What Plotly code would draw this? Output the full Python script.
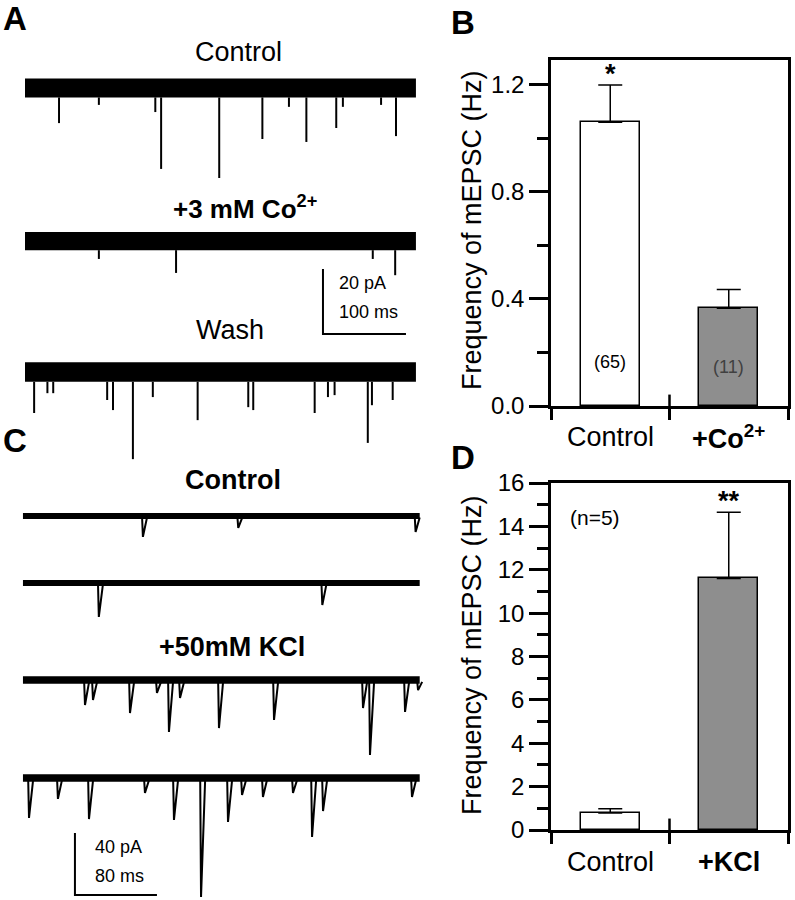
import plotly.graph_objects as go

W, H = 795, 900
FONT = "Arial, 'Liberation Sans', Helvetica, sans-serif"

# ---------------- data: bar panels ----------------
b_cats = ["Control", "+Co<sup>2+</sup>"]
b_means = [1.06, 0.365]
b_sem = [0.14, 0.07]
b_counts = ["(65)", "(11)"]

d_cats = ["Control", "+KCl"]
d_means = [0.78, 11.6]
d_sem = [0.20, 3.05]

bar_x = [0.5, 1.5]

# ---------------- data: current traces ----------------
# panel A (ms, pA): baseline offsets and noise half-width
a_names = ["Control", "+3 mM Co<sup>2+</sup>", "Wash"]
a_offsets = [0.0, -47.1, -87.4]
a_noise = [2.9, 2.8, 3.0]
a_duration = 471
a_event_t = [
    [41, 89, 157, 164, 234, 286, 318, 339, 375, 383, 429, 447],
    [89, 182, 419, 446],
    [11, 27, 34, 99, 106, 130, 154, 208, 269, 275, 349, 365, 373, 413, 418, 443],
]
a_event_amp = [
    [10.8, 5.2, 7.4, 24.9, 27.7, 15.7, 5.8, 16.6, 12.3, 5.8, 5.2, 14.8],
    [5.5, 9.8, 5.5, 10.5],
    [12.6, 6.5, 6.5, 8.6, 11.7, 26.8, 7.7, 14.8, 10.8, 11.7, 12.6, 7.7, 7.1, 21.8, 10.2, 8.6],
]
a_scale = [100, 20]  # ms, pA

# panel C
c_names = ["Control", "+50mM KCl"]
c_offsets = [0.0, -43.2, -105.8, -169.0]
c_noise = [1.9, 1.9, 2.4, 2.4]
c_duration = 387
c_event_t = [
    [117, 210, 383],
    [74, 292],
    [60.5, 68.3, 104.4, 130.7, 142.4, 153.2, 191.2, 244.9, 331.7, 338.5, 372.7, 385.4],
    [5.9, 34.1, 64.4, 119.0, 147.3, 173.7, 200.0, 213.7, 234.1, 263.4, 282.0, 292.7, 379.5],
]
c_event_amp = [
    [13.5, 7.7, 10.3],
    [21.9, 14.2],
    [16.1, 12.9, 21.3, 8.4, 33.5, 11.6, 31.0, 25.8, 18.1, 48.4, 20.6, 6.5],
    [25.8, 13.5, 26.5, 9.7, 27.1, 76.8, 28.4, 11.0, 12.3, 9.7, 38.1, 21.3, 12.3],
]
c_scale = [80, 40]


def px(x):
    return x / W


def py(y):
    return 1 - y / H


fig = go.Figure()


def add_recording(xa, ya, offset, noise, duration, times, amps, decay):
    # noise band
    fig.add_trace(go.Scatter(
        x=[0, duration, duration, 0, 0],
        y=[offset + noise, offset + noise, offset - noise, offset - noise, offset + noise],
        fill="toself", fillcolor="black", mode="lines", line=dict(width=0, color="black"),
        xaxis=xa, yaxis=ya, hoverinfo="skip", showlegend=False,
    ))
    xs, ys = [], []
    for t, a in zip(times, amps):
        if decay:
            xs += [t - 0.8, t, t + decay, None]
            ys += [offset - noise * 0.5, offset - a, offset - noise * 0.5, None]
        else:
            xs += [t, t, None]
            ys += [offset - noise, offset - a, None]
    fig.add_trace(go.Scatter(
        x=xs, y=ys, mode="lines", line=dict(color="black", width=2),
        xaxis=xa, yaxis=ya, hoverinfo="skip", showlegend=False,
    ))


for off, nz, ts, am in zip(a_offsets, a_noise, a_event_t, a_event_amp):
    add_recording("x3", "y3", off, nz, a_duration, ts, am, 0)
for off, nz, ts, am in zip(c_offsets, c_noise, c_event_t, c_event_amp):
    add_recording("x4", "y4", off, nz, c_duration, ts, am, 4)

# scale bars
sa_t0, sa_y0 = 359, -75.7
fig.add_trace(go.Scatter(
    x=[sa_t0, sa_t0, sa_t0 + a_scale[0]], y=[sa_y0 + a_scale[1], sa_y0, sa_y0],
    mode="lines", line=dict(color="black", width=2), xaxis="x3", yaxis="y3",
    hoverinfo="skip", showlegend=False))
sc_t0, sc_y0 = 50.7, -244.5
fig.add_trace(go.Scatter(
    x=[sc_t0, sc_t0, sc_t0 + c_scale[0]], y=[sc_y0 + c_scale[1], sc_y0, sc_y0],
    mode="lines", line=dict(color="black", width=2), xaxis="x4", yaxis="y4",
    hoverinfo="skip", showlegend=False))

# bars B
fig.add_trace(go.Bar(
    x=bar_x, y=b_means, width=0.5, marker=dict(color=["white", "#8e8e8e"], line=dict(color="black", width=1.5)),
    error_y=dict(type="data", symmetric=False, array=b_sem, arrayminus=[0, 0], color="black", thickness=1.5, width=12),
    xaxis="x", yaxis="y", showlegend=False, hoverinfo="skip"))
# bars D
fig.add_trace(go.Bar(
    x=bar_x, y=d_means, width=0.5, marker=dict(color=["white", "#8e8e8e"], line=dict(color="black", width=1.5)),
    error_y=dict(type="data", symmetric=False, array=d_sem, arrayminus=[0, 0], color="black", thickness=1.5, width=12),
    xaxis="x2", yaxis="y2", showlegend=False, hoverinfo="skip"))

bar_xaxis = dict(range=[0, 2], tickvals=[0, 1, 2], showticklabels=False, ticks="outside", ticklen=11,
                 tickwidth=2.5, tickcolor="black", showline=True, linewidth=2.5, linecolor="black",
                 mirror=True, showgrid=False, zeroline=False, automargin=False)


def bar_yaxis(rng, dtick, minor, domain, anchor, fmt):
    return dict(range=rng, dtick=dtick, tick0=0, tickformat=fmt, ticks="outside", ticklen=19, tickwidth=2.5,
                tickcolor="black", showline=True, linewidth=2.5, linecolor="black", mirror=True,
                showgrid=False, zeroline=False,
                tickfont=dict(size=24, color="black", family=FONT), domain=domain, anchor=anchor,
                automargin=False,
                minor=dict(dtick=minor, tick0=0, ticks="outside", ticklen=11, tickwidth=2.5, tickcolor="black",
                           showgrid=False))


hidden = dict(visible=False, automargin=False, showgrid=False, zeroline=False)

fig.update_layout(
    template="none",
    width=W, height=H, margin=dict(l=0, r=0, t=0, b=0, pad=0), autosize=False,
    paper_bgcolor="white", plot_bgcolor="white", showlegend=False, bargap=0,
    font=dict(family=FONT, color="black"),
    xaxis=dict(bar_xaxis, domain=[px(551), px(788)], anchor="y"),
    yaxis=bar_yaxis([0, 1.293], 0.4, 0.2, [py(406), py(60)], "x", ".1f"),
    xaxis2=dict(bar_xaxis, domain=[px(551), px(788)], anchor="y2"),
    yaxis2=bar_yaxis([0, 16], 2, 1, [py(830), py(483)], "x2", "d"),
    xaxis3=dict(hidden, domain=[0, px(440)], range=[-30.12, 500], anchor="y3"),
    yaxis3=dict(hidden, domain=[py(460), py(40)], range=[-114.46, 14.77], anchor="x3"),
    xaxis4=dict(hidden, domain=[0, px(440)], range=[-22.4, 406.8], anchor="y4"),
    yaxis4=dict(hidden, domain=[py(900), py(460)], range=[-247.7, 36.1], anchor="x4"),
)

# inner part of middle x tick
for xa, ya in [("x", "y"), ("x2", "y2")]:
    fig.add_shape(type="line", xref=xa, yref=f"{ya} domain",
                  x0=1, x1=1, y0=0, y1=0.033, line=dict(color="black", width=2.5))

ann = []


def text(x, y, s, size=26, xanchor="center", color="black", xref="paper", yref="paper", angle=0):
    ann.append(dict(x=x, y=y, xref=xref, yref=yref, text=s, showarrow=False, xanchor=xanchor,
                    yanchor="middle", textangle=angle, font=dict(size=size, color=color, family=FONT)))


# panel letters
text(px(1), py(18), "<b>A</b>", 33, "left")
text(px(449), py(22), "<b>B</b>", 33, "left")
text(px(1), py(440), "<b>C</b>", 33, "left")
text(px(449), py(458), "<b>D</b>", 33, "left")

# trace titles
text(px(238), py(52), a_names[0], 27)
text(px(245), py(208), "<b>" + a_names[1] + "</b>", 26)
text(px(230), py(330), a_names[2], 27)
text(px(233), py(480), "<b>" + c_names[0] + "</b>", 27)
text(px(232), py(647), "<b>" + c_names[1] + "</b>", 27)

# scale bar labels
text(376, -60, f"{a_scale[1]} pA", 18, "left", xref="x3", yref="y3")
text(376, -68.9, f"{a_scale[0]} ms", 18, "left", xref="x3", yref="y3")
text(68.3, -213.5, f"{c_scale[1]} pA", 18, "left", xref="x4", yref="y4")
text(68.3, -232.3, f"{c_scale[0]} ms", 18, "left", xref="x4", yref="y4")

# y titles
text(px(472), py(230), "Frequency of mEPSC (Hz)", 27, angle=-90)
text(px(472), py(655), "Frequency of mEPSC (Hz)", 27, angle=-90)

# category labels
text(bar_x[0], py(437), b_cats[0], 27, xref="x")
text(bar_x[1], py(437), "<b>" + b_cats[1] + "</b>", 27, xref="x")
text(bar_x[0], py(862), d_cats[0], 27, xref="x2")
text(bar_x[1], py(862), "<b>" + d_cats[1] + "</b>", 27, xref="x2")

# counts and significance
text(bar_x[0], 0.165, b_counts[0], 18, xref="x", yref="y")
text(bar_x[1], 0.146, b_counts[1], 18, color="#404040", xref="x", yref="y")
ann.append(dict(x=bar_x[0], y=b_means[0] + b_sem[0], xref="x", yref="y", text="<b>*</b>", showarrow=False,
                yanchor="bottom", yshift=-6, font=dict(size=27, family=FONT, color="black")))
ann.append(dict(x=bar_x[1], y=d_means[1] + d_sem[1], xref="x2", yref="y2", text="<b>**</b>", showarrow=False,
                yanchor="bottom", yshift=-6, font=dict(size=27, family=FONT, color="black")))
text(0.37, 14.4, "(n=5)", 21, xref="x2", yref="y2")

fig.update_layout(annotations=ann)
fig.write_html("out.html", config={"displayModeBar": False},
               post_script="document.body.style.margin='0px';document.body.style.overflow='hidden';")
